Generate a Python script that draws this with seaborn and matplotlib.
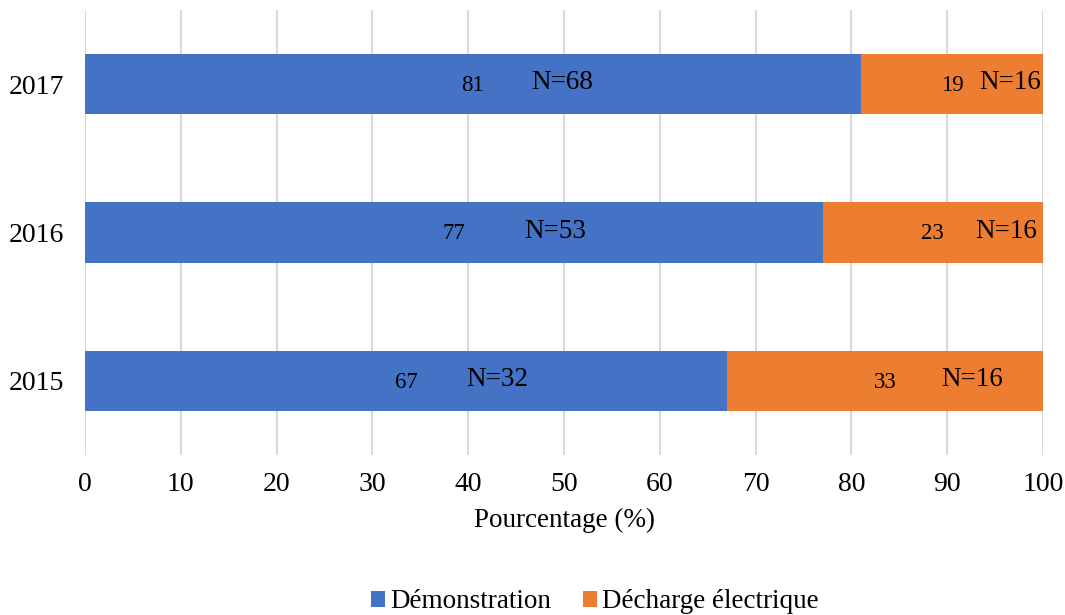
import matplotlib
matplotlib.use("Agg")
import matplotlib.pyplot as plt
from matplotlib.patches import Patch
import seaborn as sns
import pandas as pd

# Data
years = ["2017", "2016", "2015"]
demonstration = [81, 77, 67]
decharge = [19, 23, 33]
n_demo = [68, 53, 32]
n_decharge = [16, 16, 16]
# Horizontal placement (in %) of the "N=" annotations
n_demo_pos = [49.8, 49.1, 43.0]
n_decharge_pos = [96.6, 96.2, 92.6]

BLUE = "#4472C4"
ORANGE = "#ED7D31"

sns.set_theme(style="white")
plt.rcParams["font.family"] = ["Liberation Serif", "DejaVu Serif"]
plt.rcParams["text.color"] = "black"

df = pd.DataFrame({
    "year": years,
    "demo": demonstration,
    "dech": decharge,
})
df["total"] = df["demo"] + df["dech"]

fig = plt.figure(figsize=(10.65, 6.15), dpi=100)
ax = fig.add_axes([85 / 1065, 1 - 455 / 615, (1043 - 85) / 1065, 445 / 615])

# Stacked bars: full-length orange underneath, blue share on top
sns.barplot(data=df, x="total", y="year", order=years, color=ORANGE,
            width=0.405, linewidth=0, saturation=1, ax=ax, zorder=2)
sns.barplot(data=df, x="demo", y="year", order=years, color=BLUE,
            width=0.405, linewidth=0, saturation=1, ax=ax, zorder=3)

ax.set_xlim(0, 100)
ax.set_ylim(2.5, -0.5)
ax.set_xticks(range(0, 101, 10))
ax.xaxis.grid(True, color="#D9D9D9", linewidth=1.5, zorder=0)
ax.yaxis.grid(False)
ax.set_axisbelow(True)
for s in ax.spines.values():
    s.set_visible(False)
ax.tick_params(axis="both", length=0, labelsize=20, colors="black")
ax.tick_params(axis="x", pad=12)
ax.tick_params(axis="y", pad=15)
ax.set_xlabel("Pourcentage (%)", fontsize=19.5, color="black", labelpad=8)
ax.set_ylabel("")

for i in range(len(years)):
    d, e = demonstration[i], decharge[i]
    ax.text(d / 2, i + 0.01, f"{d}", ha="center", va="center", fontsize=16.5, color="black", zorder=5)
    ax.text(d + e / 2, i + 0.01, f"{e}", ha="center", va="center", fontsize=16.5, color="black", zorder=5)
    ax.text(n_demo_pos[i], i - 0.01, f"N={n_demo[i]}", ha="center", va="center",
            fontsize=19.5, color="black", zorder=5)
    ax.text(n_decharge_pos[i], i - 0.01, f"N={n_decharge[i]}", ha="center", va="center",
            fontsize=19.5, color="black", zorder=5)

handles = [Patch(facecolor=BLUE, edgecolor="none", label="Démonstration"),
           Patch(facecolor=ORANGE, edgecolor="none", label="Décharge électrique")]
fig.legend(handles=handles, loc="center", bbox_to_anchor=(595 / 1065, 1 - 602 / 615),
           ncol=2, frameon=False, fontsize=19.5, handlelength=0.5, handleheight=0.5,
           handletextpad=0.2, columnspacing=1.2, labelcolor="black")

fig.savefig("out.png", dpi=100)
